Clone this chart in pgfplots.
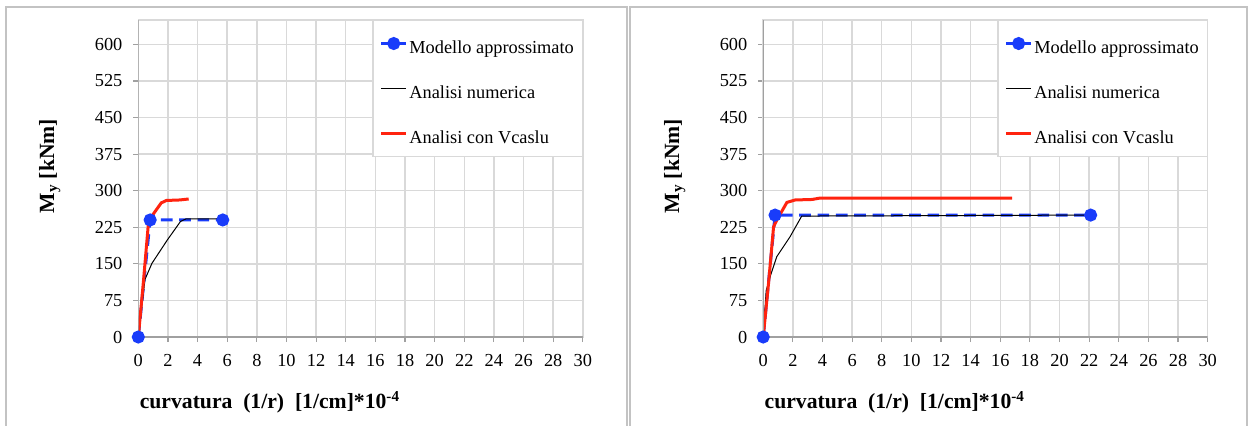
\documentclass[border=0pt]{standalone}
\usepackage{pgfplots}
\pgfplotsset{compat=1.18}
\usepackage{fontspec}
\setmainfont{Liberation Serif}
\definecolor{myblue}{RGB}{25,60,250}
\definecolor{myred}{RGB}{255,35,15}
\definecolor{gridc}{RGB}{217,217,217}
\definecolor{axc}{RGB}{160,160,160}
\definecolor{framec}{RGB}{195,195,195}

\pgfplotstableread{
x y
0 0
0.8 240
5.7 240
}\modA
\pgfplotstableread{
x y
0 0
0.45 118
0.92 151
1.96 199
2.85 237
3.2 242
5.7 242
}\numA
\pgfplotstableread{
x y
0 0
0.35 115
0.68 232
0.85 245
1.15 258
1.55 275
1.9 280
2.8 281
3.4 283
}\vcaA
\pgfplotstableread{
x y
0 0
0.8 250
22.1 250
}\modB
\pgfplotstableread{
x y
0 0
0.2 95
0.47 124
0.92 165
1.82 206
2.6 248
22.1 250
}\numB
\pgfplotstableread{
x y
0 0
0.36 110
0.7 226
0.92 240
1.6 276
2.16 281
3.3 282
3.85 285
16.8 285
}\vcaB

\pgfplotsset{
  panel/.style={
    scale only axis, width=266.7pt, height=190.2pt,
    xmin=0, xmax=30, ymin=0, ymax=650,
    xtick distance=2, ytick={0,75,...,600},
    grid=major, major grid style={gridc, line width=0.9pt},
    axis line style={gridc, line width=0.9pt},
    tick pos=left, tick align=outside, major tick length=3pt,
    tick style={axc, line width=0.7pt},
    /pgf/number format/assume math mode=true,
    tick label style={font=\fontsize{11}{13}\selectfont},
    xticklabel style={yshift=-4pt},
    yticklabel style={xshift=-3pt},
    label style={font=\bfseries\fontsize{13}{15}\selectfont},
    xlabel={curvatura\ \ (1/r)\ \ [1/cm]*10\textsuperscript{-4}},
    ylabel={M\textsubscript{y} [kNm]},
    xlabel style={at={(axis description cs:0.296,-0.205)}, anchor=center},
    ylabel style={at={(axis description cs:-0.199,0.539)}, anchor=center},
    legend cell align=left,
    legend style={at={(1,1)}, anchor=north east, draw=gridc, line width=0.7pt,
      fill=white, font=\fontsize{11}{13}\selectfont, row sep=8.6pt,
      inner xsep=4pt, inner ysep=4.5pt, nodes={inner xsep=1pt, text height=13pt}},
    legend image code/.code={\draw[mark repeat=2,mark phase=2,##1] plot coordinates {(0pt,0pt)(7.5pt,0pt)(15pt,0pt)};},
  },
  sA/.style={myblue, line width=1.8pt, dash pattern=on 7pt off 4pt, mark=*, mark size=3pt, mark options={solid, fill=myblue, draw=myblue}},
  sB/.style={black, line width=0.6pt, no marks},
  sC/.style={myred, line width=1.8pt, no marks},
}

\begin{document}
\begin{tikzpicture}
\useasboundingbox (0,0) rectangle (749.4pt,255pt);
\draw[framec, line width=1.1pt] (3.42pt,-5pt) -- (3.42pt,250.6pt) -- (376.02pt,250.6pt) -- (376.02pt,-5pt);
\draw[framec, line width=1.1pt] (378pt,-5pt) -- (378pt,250.6pt) -- (748.2pt,250.6pt) -- (748.2pt,-5pt);

\begin{axis}[panel, at={(82.98pt,52.8pt)}, anchor=south west]
\addplot[sA] table[x=x,y=y]{\modA};
\addlegendentry{Modello approssimato}
\addplot[sB] table[x=x,y=y]{\numA};
\addlegendentry{Analisi numerica}
\addplot[sC] table[x=x,y=y]{\vcaA};
\addlegendentry{Analisi con Vcaslu}
\draw[axc, line width=0.9pt] (axis cs:0,650) -- (axis cs:0,0) -- (axis cs:30,0);
\end{axis}

\begin{axis}[panel, at={(457.92pt,52.8pt)}, anchor=south west]
\addplot[sA] table[x=x,y=y]{\modB};
\addlegendentry{Modello approssimato}
\addplot[sB] table[x=x,y=y]{\numB};
\addlegendentry{Analisi numerica}
\addplot[sC] table[x=x,y=y]{\vcaB};
\addlegendentry{Analisi con Vcaslu}
\draw[axc, line width=0.9pt] (axis cs:0,650) -- (axis cs:0,0) -- (axis cs:30,0);
\end{axis}
\end{tikzpicture}
\end{document}
